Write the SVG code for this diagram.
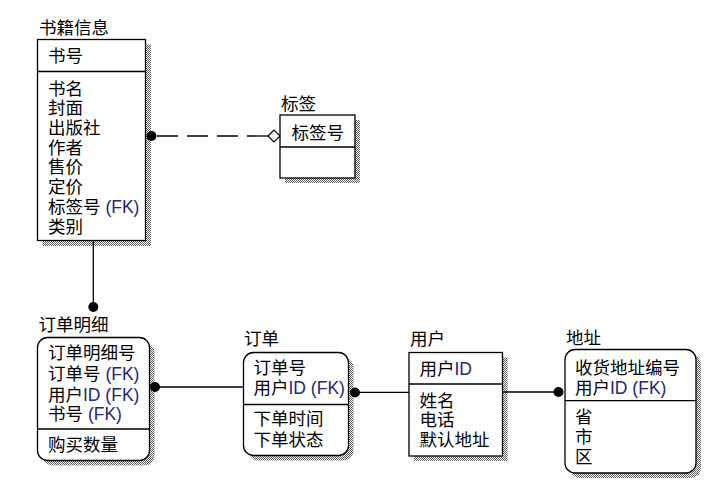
<svg xmlns="http://www.w3.org/2000/svg" width="720" height="485" viewBox="0 0 720 485">
<defs>
<pattern id="stip" width="2" height="2" patternUnits="userSpaceOnUse">
<rect width="2" height="2" fill="#ffffff"/>
<rect width="1" height="1" fill="#5a5a5a"/>
<rect x="1" y="1" width="1" height="1" fill="#5a5a5a"/>
</pattern>
</defs>
<style>
.t{font-family:"Liberation Sans","Noto Sans CJK SC",sans-serif;font-size:17.5px;fill:#000}
.k{fill:#24247a}
.box{fill:#fff;stroke:#000;stroke-width:1.3}
.sh{fill:url(#stip);stroke:none}
.dv{stroke:#000;stroke-width:1.3}
.ln{stroke:#000;stroke-width:1.3;fill:none}
.dot{fill:#000}
</style>
<rect width="720" height="485" fill="#fff"/>

<g id="shujixinxi">
<text class="t" x="39" y="33.5">书籍信息</text>
<rect class="sh" x="42.5" y="44.5" width="108.5" height="201.5"/>
<rect class="box" x="37.5" y="39.5" width="108" height="201"/>
<line class="dv" x1="37.5" y1="71.5" x2="145.5" y2="71.5"/>
<text class="t" x="48" y="62">书号</text>
<text class="t" x="48" y="94.5">书名</text>
<text class="t" x="48" y="114.2">封面</text>
<text class="t" x="48" y="133.9">出版社</text>
<text class="t" x="48" y="153.6">作者</text>
<text class="t" x="48" y="173.3">售价</text>
<text class="t" x="48" y="193">定价</text>
<text class="t" x="48" y="212.7">标签号 <tspan class="k">(FK)</tspan></text>
<text class="t" x="48" y="232.6">类别</text>
</g>

<g id="biaoqian">
<text class="t" x="281" y="110">标签</text>
<rect class="sh" x="285" y="120" width="75" height="63"/>
<rect class="box" x="280" y="115" width="75" height="63"/>
<line class="dv" x1="280" y1="147" x2="355" y2="147"/>
<text class="t" x="291.5" y="138.7">标签号</text>
</g>

<g id="dingdanmingxi">
<text class="t" x="38.5" y="331">订单明细</text>
<rect class="sh" x="42.5" y="342.5" width="112" height="123" rx="10"/>
<rect class="box" x="37.5" y="337.5" width="112" height="123" rx="10"/>
<line class="dv" x1="37.5" y1="429" x2="149.5" y2="429"/>
<text class="t" x="48" y="359">订单明细号</text>
<text class="t" x="48" y="380">订单号 <tspan class="k">(FK)</tspan></text>
<text class="t" x="48" y="400.5">用户<tspan class="k">ID (FK)</tspan></text>
<text class="t" x="48" y="420">书号 <tspan class="k">(FK)</tspan></text>
<text class="t" x="48" y="451">购买数量</text>
</g>

<g id="dingdan">
<text class="t" x="244" y="345">订单</text>
<rect class="sh" x="248.5" y="357.5" width="105" height="103" rx="10"/>
<rect class="box" x="243.5" y="352.5" width="105" height="103" rx="10"/>
<line class="dv" x1="243.5" y1="404.5" x2="348.5" y2="404.5"/>
<text class="t" x="253.5" y="374.3">订单号</text>
<text class="t" x="253.5" y="394.3">用户<tspan class="k">ID (FK)</tspan></text>
<text class="t" x="253.5" y="425">下单时间</text>
<text class="t" x="253.5" y="446">下单状态</text>
</g>

<g id="yonghu">
<text class="t" x="410" y="345.3">用户</text>
<rect class="sh" x="414" y="357.5" width="93.5" height="103.5"/>
<rect class="box" x="409" y="352.5" width="93.5" height="103.5"/>
<line class="dv" x1="409" y1="384" x2="502.5" y2="384"/>
<text class="t" x="419.5" y="375.3">用户<tspan class="k">ID</tspan></text>
<text class="t" x="419.5" y="407">姓名</text>
<text class="t" x="419.5" y="426.3">电话</text>
<text class="t" x="419.5" y="446.3">默认地址</text>
</g>

<g id="dizhi">
<text class="t" x="566" y="343.7">地址</text>
<rect class="sh" x="570" y="354.5" width="131" height="123.5" rx="10"/>
<rect class="box" x="565" y="349.5" width="131" height="123.5" rx="10"/>
<line class="dv" x1="565" y1="400.7" x2="696" y2="400.7"/>
<text class="t" x="575" y="373.7">收货地址编号</text>
<text class="t" x="575" y="394.3">用户<tspan class="k">ID (FK)</tspan></text>
<text class="t" x="575" y="423">省</text>
<text class="t" x="575" y="443">市</text>
<text class="t" x="575" y="463">区</text>
</g>

<g id="connectors">
<line class="ln" x1="152" y1="136" x2="268" y2="136" stroke-dasharray="21 9" stroke-dashoffset="-5"/>
<circle class="dot" cx="151.5" cy="136" r="5"/>
<polygon points="268,136 274,130 280,136 274,142" fill="#fff" stroke="#000" stroke-width="1.2"/>

<line class="ln" x1="93.3" y1="240.5" x2="93.3" y2="307"/>
<circle class="dot" cx="93.3" cy="307" r="5"/>

<line class="ln" x1="155" y1="387" x2="243.5" y2="387"/>
<circle class="dot" cx="155" cy="387" r="5"/>

<line class="ln" x1="355" y1="392.3" x2="409" y2="392.3"/>
<circle class="dot" cx="355" cy="392.5" r="5"/>

<line class="ln" x1="502.5" y1="392" x2="558.5" y2="392"/>
<circle class="dot" cx="558.5" cy="392" r="5"/>
</g>
</svg>
